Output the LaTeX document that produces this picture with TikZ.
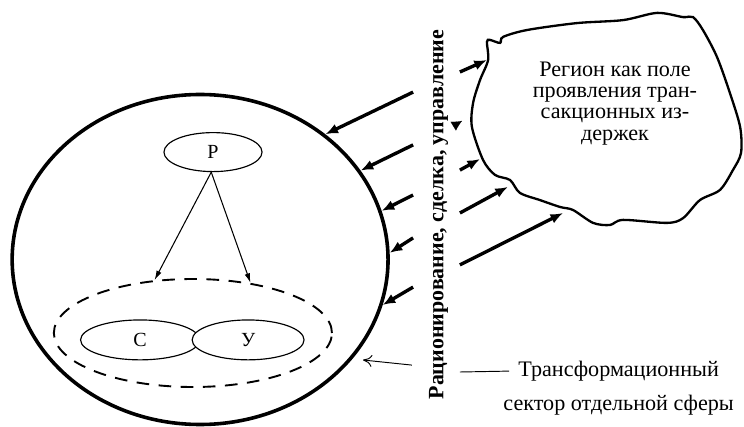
\documentclass[tikz,border=0pt]{standalone}
\usepackage{fontspec}
\setmainfont{Liberation Serif}
\usetikzlibrary{shapes,positioning,arrows.meta}
\tikzset{ell/.style={ellipse,draw,line width=1.1pt,inner sep=0pt,font=\fontsize{19}{19}\selectfont},
  fat/.style={-{Latex[length=4.2mm,width=3.4mm]},line width=3.2pt},
  slim/.style={-{Latex[length=3.2mm,width=1.8mm]},line width=1pt},
  txt/.style={font=\fontsize{21}{20}\selectfont,inner sep=0pt}}

\begin{document}
\begin{tikzpicture}
        \useasboundingbox (0,0) rectangle (24.8,14.2);
        % sphere and its sector
        \node[ellipse,draw,line width=3.4pt,minimum width=12.53cm,minimum height=11cm,inner sep=0pt] (sph) at (6.67,5.55) {};
        \node[ell] (r) at (7.1,9.13) [minimum width=3.27cm,minimum height=1.3cm] {Р};
        \node[ellipse,draw,dashed,line width=1.8pt,dash pattern=on 12pt off 9pt,minimum width=9.27cm,minimum height=3.6cm] (sec) at (6.43,3.1) {};
        \node[ell] (c) at (4.67,2.87) [minimum width=3.97cm,minimum height=1.33cm] {С};
        \node[ell,fill=white] (u) at (8.27,2.87) [minimum width=3.73cm,minimum height=1.33cm] {У};
        \draw [slim] (r.265) to (sec.126);
        \draw [slim] (r.265) to (sec.41);

        % region
        \draw [line width=2.2pt] plot [smooth cycle,tension=0.5] coordinates {(16.23,12.8) (16.33,12.87) (16.67,12.77) (16.77,12.97)
          (17.57,13.2) (19.23,13.43) (20.77,13.53) (21.9,13.77) (22.77,13.63) (23.1,13.63) (23.43,13.2) (23.9,12.3)
          (24.33,11.1) (24.67,9.97) (24.7,9.1) (24.43,8.53) (24.0,7.87) (23.33,7.53) (22.77,6.93) (22.23,6.77)
          (20.77,6.87) (20.33,6.7) (19.77,6.77) (19.1,7.2) (18.67,7.3) (18.0,7.53) (17.33,7.77) (17.0,8.2)
          (16.5,8.37) (16.1,8.87) (15.73,9.97) (15.77,10.77) (16.0,11.53) (16.27,12.2)};
        \node[txt,align=center] (reg) at (20.5,10.75) {Регион как поле\\проявления тран-\\сакционных из-\\держек};
        \node[font=\fontsize{20.8}{20}\selectfont\bfseries,rotate=90,inner sep=0pt] (lab) at (14.62,7.05) {Рационирование, сделка, управление};

        % arrows to the sphere
        \coordinate (a1) at (13.77,11.13);
        \coordinate (a2) at (13.77,9.37);
        \coordinate (a3) at (13.77,7.7);
        \coordinate (a4) at (13.77,6.27);
        \coordinate (a5) at (13.77,4.63);
        \draw [fat] (a1) to (sph.45);
        \draw [fat] (a2) to (sph.29);
        \draw [fat] (a3) to (sph.15);
        \draw [fat] (a4) to (sph.2);
        \draw [fat] (a5) to (sph.-14);

        % arrows to the region
        \coordinate (b1) at (15.33,11.8);   \coordinate (e1) at (16.23,12.2);
        \coordinate (b2) at (15.12,10.0);   \coordinate (e2) at (15.4,10.17);
        \coordinate (b3) at (15.33,8.53);   \coordinate (e3) at (16.0,8.9);
        \coordinate (b4) at (15.33,7.1);    \coordinate (e4) at (16.93,7.97);
        \coordinate (b5) at (15.33,5.37);   \coordinate (e5) at (18.77,7.1);
        \draw [fat] (b1) to (e1);
        \draw [-{Latex[length=3.4mm,width=3.4mm]},line width=0.1pt] (b2) to (e2);
        \draw [fat] (b3) to (e3);
        \draw [fat] (b4) to (e4);
        \draw [fat] (b5) to (e5);

        % transformation sector
        \node[txt,anchor=west,inner xsep=0.3cm] (trf) at (16.97,1.83) {Трансформационный};
        \node[txt] (trs) [below=0.45cm of trf.south] {сектор отдельной сферы};
        \coordinate (w) at (15.33,1.8);
        \draw [line width=0.9pt] (w) to (trf.west);
        \coordinate (t1) at (13.73,2.03);
        \coordinate (t2) at (12.1,2.2);
        \draw [-{To[length=3mm,width=4mm]},line width=0.9pt] (t1) to (t2);
    \end{tikzpicture}
\end{document}
